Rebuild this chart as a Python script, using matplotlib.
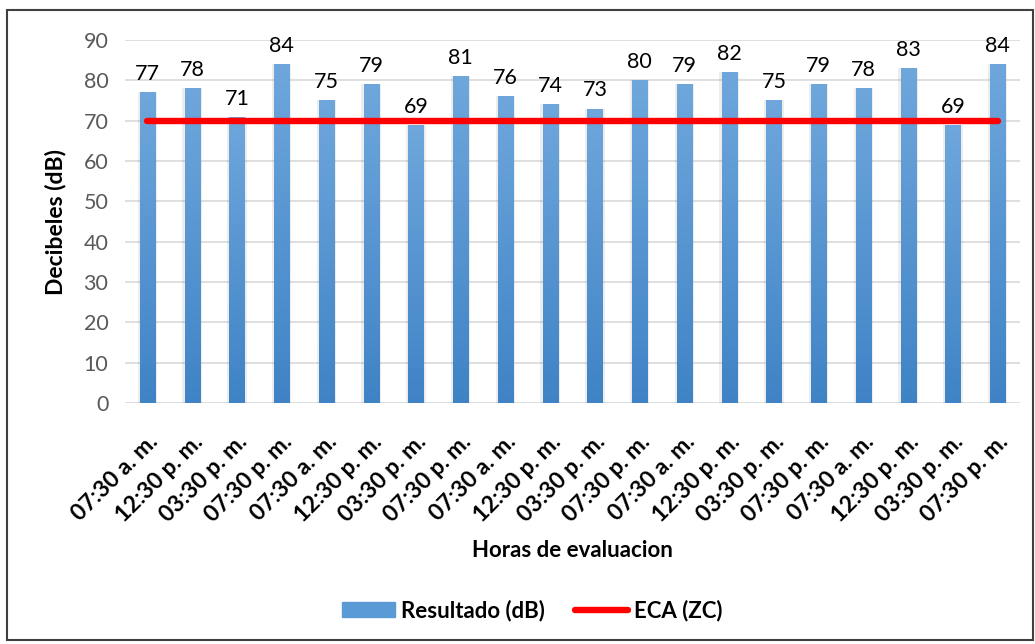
import numpy as np
import matplotlib
import matplotlib.pyplot as plt
from matplotlib.colors import LinearSegmentedColormap
from matplotlib.patches import Rectangle
from matplotlib.lines import Line2D

matplotlib.use("Agg")

plt.rcParams["font.family"] = ["Lato", "DejaVu Sans"]

# ── Data ───────────────────────────────────────────────────────────────────────
horas = ["07:30 a. m.", "12:30 p. m.", "03:30 p. m.", "07:30 p. m."] * 5
resultado = [77, 78, 71, 84, 75, 79, 69, 81, 76, 74,
             73, 80, 79, 82, 75, 79, 78, 83, 69, 84]
eca = [70] * len(horas)

# ── Figure ─────────────────────────────────────────────────────────────────────
fig = plt.figure(figsize=(10.35, 6.44), dpi=100)
ax = fig.add_axes([0.1208, 0.374, 0.8647, 0.564])

x = np.arange(len(horas))
bars = ax.bar(x, resultado, width=0.34, color="none", zorder=2)

# vertical gradient fill for each bar
cmap = LinearSegmentedColormap.from_list("blues", ["#3F83C6", "#6FA7DC"])
grad = np.linspace(0, 1, 256).reshape(-1, 1)
for b in bars:
    x0, y0, w, h = b.get_x(), b.get_y(), b.get_width(), b.get_height()
    img = ax.imshow(grad, cmap=cmap, aspect="auto", origin="lower",
                    extent=[x0, x0 + w, y0, y0 + h], zorder=2)
    img.set_clip_path(b)
    # soft shadow around the bar
    for dx in (-0.05, w):
        ax.add_patch(Rectangle((x0 + dx, y0), 0.05, h, color="#000000",
                               alpha=0.07, lw=0, zorder=1))
    ax.text(x0 + w / 2, h + 2.0, f"{h:.0f}", ha="center", va="bottom",
            fontsize=15.5, color="#000000", zorder=4)

ax.plot(x, eca, color="#FF0000", lw=4.6, solid_capstyle="round", zorder=3)

ax.set_xlim(-0.5, len(horas) - 0.5)
ax.set_ylim(0, 90)
ax.set_yticks(range(0, 91, 10))
ax.set_xticks(x)
ax.set_xticklabels(horas, rotation=45, ha="right", rotation_mode="anchor",
                   fontsize=16.5, fontweight="bold")
ax.tick_params(axis="y", labelsize=15.5, labelcolor="#595959", length=0, pad=12)
ax.tick_params(axis="x", length=0, pad=20)
ax.yaxis.grid(True, color="#D9D9D9", lw=1.2)
ax.set_axisbelow(True)
for s in ax.spines.values():
    s.set_visible(False)

ax.set_ylabel("Decibeles (dB)", fontsize=16.5, fontweight="bold", labelpad=12)
ax.set_xlabel("Horas de evaluacion", fontsize=16, fontweight="bold", labelpad=10)

handles = [Rectangle((0, 0), 1, 1, color="#5B9BD5"),
           Line2D([], [], color="#FF0000", lw=4.6, solid_capstyle="round")]
fig.legend(handles, ["Resultado (dB)", "ECA (ZC)"], loc="center",
           bbox_to_anchor=(0.514, 0.052), ncol=2, frameon=False,
           prop={"weight": "bold", "size": 16}, handlelength=2.4,
           handletextpad=0.25, columnspacing=1.35)

# outer frame
fig.add_artist(Rectangle((0.007, 0.006), 0.991, 0.979, transform=fig.transFigure,
                         fill=False, edgecolor="#404040", lw=1.5))

fig.savefig("out.png", dpi=100)
